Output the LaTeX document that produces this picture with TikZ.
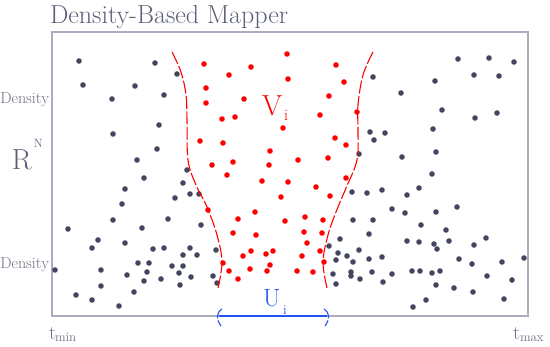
\documentclass[tikz,border=0pt]{standalone}
\definecolor{dotdark}{RGB}{66,70,94}
\definecolor{framec}{RGB}{172,172,190}
\definecolor{txtgray}{RGB}{92,96,120}
\definecolor{lblgray}{RGB}{110,114,132}
\definecolor{ublue}{RGB}{35,85,240}
\definecolor{vred}{RGB}{255,0,0}
\tikzset{
  darkdot/.style={fill=dotdark},
  reddot/.style={fill=vred},
  boundary/.style={vred, line width=1.1pt, dash pattern=on 13pt off 2.5pt},
  txt/.style={inner sep=0pt, outer sep=0pt},
}
\begin{document}
\begin{tikzpicture}[x=1pt,y=-1pt]
\useasboundingbox (0,0) rectangle (550,347);
\fill[white] (0,0) rectangle (550,347);
% frame
\draw[framec, line width=1.1pt] (52,32) rectangle (528,316);
% title
\node[txt, anchor=base west, text=txtgray, font=\fontsize{26}{29}\selectfont] (title) at (50,24) {Density-Based Mapper};
% side labels
\node[txt, anchor=base east, text=lblgray, font=\fontsize{16}{18}\selectfont] (dtop) at (49,104) {Density};
\node[txt, anchor=base east, text=lblgray, font=\fontsize{16}{18}\selectfont] (dbot) at (49,269) {Density};
\node[txt, anchor=base west, text=txtgray, font=\fontsize{29}{32}\selectfont] (rr) at (12,170) {R};
\node[txt, anchor=base west, text=txtgray, font=\fontsize{12}{14}\selectfont] (rn) at (34,148) {N};
% time labels
\node[txt, anchor=base west, text=lblgray, font=\fontsize{20}{22}\selectfont] (tmin) at (49,340) {t};
\node[txt, anchor=base west, text=lblgray, font=\fontsize{13}{14}\selectfont] (tminsub) at (55,342) {min};
\node[txt, anchor=base west, text=lblgray, font=\fontsize{20}{22}\selectfont] (tmax) at (513,340) {t};
\node[txt, anchor=base west, text=lblgray, font=\fontsize{13}{14}\selectfont] (tmaxsub) at (520,342) {max};
% dark points
\foreach \x/\y in {79/61,155/63,177/74,83/85,135/86,112/99,164/95,159/125,113/134,157/149,137/160,187/170,
  144/178,183/183,125/189,175/198,190/194,199/194,122/204,113/220,168/219,68/229,142/228,201/225,98/240,92/248,
  125/243,153/249,164/248,190/248,183/255,197/255,138/263,149/263,55/270,101/270,172/266,183/266,147/272,179/273,
  127/275,144/281,161/279,191/277,101/286,180/285,134/292,76/295,92/300,119/306,
  216/250,213/276,217/283,
  373/77,458/59,489/58,514/62,435/81,474/75,499/76,401/93,442/110,475/118,497/113,370/132,385/133,374/140,433/129,
  402/157,436/152,432/174,359/154,
  352/192,367/193,382/190,407/195,419/188,392/209,405/213,436/212,457/207,353/220,373/220,421/225,446/230,369/234,
  340/239,329/246,407/241,419/242,434/244,437/249,449/241,486/238,474/245,359/250,338/253,347/256,336/260,353/262,
  369/259,382/257,459/259,472/264,502/262,524/258,333/274,351/272,351/276,360/279,336/284,372/272,392/274,412/271,
  420/271,432/273,440/271,383/282,436/285,487/276,512/280,454/288,473/292,426/300,504/299,413/307}
  \fill[darkdot] (\x,\y) circle (2.8pt);
% red points
\foreach \x/\y in {204/64,206/88,206/103,200/141,287/54,251/67,229/75,336/65,288/79,344/82,244/99,329/96,222/119,
  235/117,320/115,357/112,283/128,335/138,346/145,223/143,270/151,233/162,269/165,298/160,328/158,212/165,227/175,
  262/181,288/182,346/178,316/187,281/197,330/196,208/210,255/212,238/219,285/221,305/217,323/220,233/233,256/235,
  304/232,322/233,307/243,251/251,266/254,273/251,320/251,243/256,302/256,223/263,270/265,324/262,229/271,250/269,
  267/271,297/271,313/272,238/279}
  \fill[reddot] (\x,\y) circle (2.8pt);
% boundaries of V_i
\draw[boundary] plot[smooth, tension=0.6] coordinates {(172,52) (181,72) (186,95) (187,120) (188,160) (196,185) (207,207) (217,235) (222,262) (218,288)};
\draw[boundary] plot[smooth, tension=0.6] coordinates {(373,52) (363,75) (358,105) (358,130) (357,160) (346,188) (336,212) (328,235) (323,262) (327,288)};
\node[txt, anchor=base west, text=vred, font=\fontsize{29}{32}\selectfont] (vi) at (262,116) {V};
\node[txt, anchor=base west, text=vred, font=\fontsize{16}{18}\selectfont] (visub) at (284,121) {i};
% U_i interval
\coordinate (ul) at (219,316);
\coordinate (ur) at (327,316);
\draw[ublue, line width=1.1pt] (ul) -- (ur);
\draw[ublue, line width=1.1pt, dash pattern=on 11pt off 2pt] ([shift={(3,-7)}]ul) .. controls ([shift={(-3,-3)}]ul) and ([shift={(-3,3)}]ul) .. ([shift={(2,10)}]ul);
\draw[ublue, line width=1.1pt, dash pattern=on 11pt off 2pt] ([shift={(-3,-7)}]ur) .. controls ([shift={(3,-3)}]ur) and ([shift={(3,3)}]ur) .. ([shift={(-2,10)}]ur);
\node[txt, anchor=base west, text=ublue, font=\fontsize{25}{28}\selectfont] (ui) at (263,307) {U};
\node[txt, anchor=base west, text=ublue, font=\fontsize{13.5}{15}\selectfont] (uisub) at (283,315) {i};
\end{tikzpicture}
\end{document}
